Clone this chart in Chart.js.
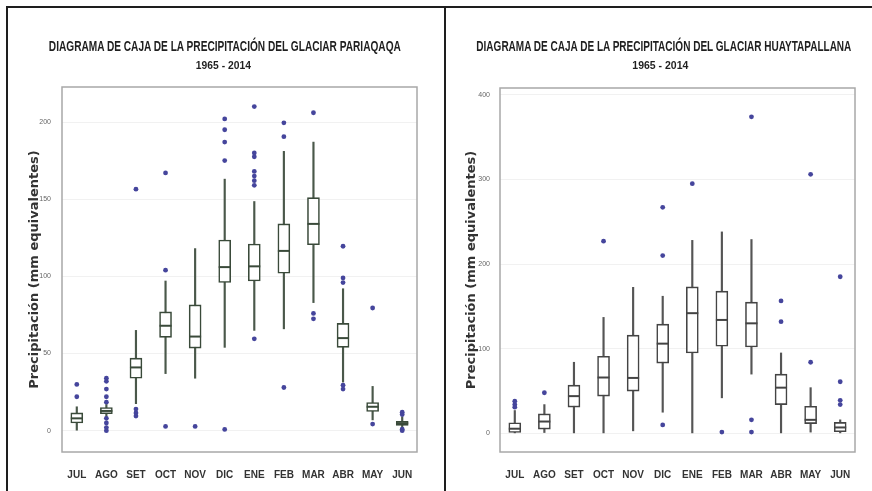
<!DOCTYPE html>
<html><head><meta charset="utf-8">
<script src="https://cdn.jsdelivr.net/npm/chart.js@4.4.1/dist/chart.umd.min.js"></script>
<style>
html,body{margin:0;padding:0;background:#fff;width:872px;height:491px;overflow:hidden;position:relative;}
.line{position:absolute;background:#1e1e1e;}
.t{position:absolute;white-space:nowrap;font-family:'Liberation Sans Narrow','Liberation Sans',Arial,sans-serif;font-weight:bold;color:#1f1f1f;transform-origin:center center;line-height:1;}
canvas{position:absolute;top:0;}
</style></head><body>
<div class="line" style="left:6px;top:6px;width:866px;height:2px"></div>
<div class="line" style="left:6px;top:6px;width:2px;height:485px"></div>
<div class="line" style="left:444px;top:6px;width:2px;height:485px"></div>
<canvas id="c1" width="445" height="491" style="left:0"></canvas>
<canvas id="c2" width="427" height="491" style="left:445px"></canvas>
<div class="t" id="t1" style="font-size:15px">DIAGRAMA DE CAJA DE LA PRECIPITACIÓN DEL GLACIAR PARIAQAQA</div>
<div class="t" id="s1" style="font-size:11px">1965 - 2014</div>
<div class="t" id="t2" style="font-size:15px">DIAGRAMA DE CAJA DE LA PRECIPITACIÓN DEL GLACIAR HUAYTAPALLANA</div>
<div class="t" id="s2" style="font-size:11px">1965 - 2014</div>
<script>
// ---- data ----
const months = ['JUL','AGO','SET','OCT','NOV','DIC','ENE','FEB','MAR','ABR','MAY','JUN'];

const pariaqaqaLow    = [0, 9, 17.5, 37, 34, 54, 65, 66, 83, 31.5, 7, 2];
const pariaqaqaQ1     = [5, 11, 34, 60.5, 53.5, 96, 97, 102, 120.5, 54, 12.5, 3.5];
const pariaqaqaMedian = [8, 12.8, 41, 68, 61, 106, 106.5, 116.5, 134, 60, 15.5, 4.8];
const pariaqaqaQ3     = [11.5, 15, 47, 77, 81.5, 123.5, 121, 134, 151, 69.5, 18.3, 6];
const pariaqaqaHigh   = [15.5, 17, 65, 97, 118, 163, 148.5, 181, 187, 92, 28.7, 9];
const pariaqaqaOutliers = [
  [22, 30],
  [34, 32, 27, 22, 18.5, 8, 5, 2, 0],
  [156.5, 14, 11.5, 9.5],
  [167, 104, 2.8],
  [2.8],
  [202, 195, 187, 175, 0.8],
  [210, 180, 177.5, 168, 165, 162, 159, 59.5],
  [199.5, 190.5, 28],
  [206, 76, 72.5],
  [119.5, 99, 96, 29.5, 27],
  [79.5, 4.3],
  [12, 10.5, 1, 0]
];
const pariaqaqaTicks = [0, 50, 100, 150, 200];

const huaytapallanaLow    = [0, 1, 0, 0, 3, 25, 0, 42, 70, 0, 1.5, 0];
const huaytapallanaQ1     = [1, 5, 31, 44, 50, 83, 95, 103, 102, 34, 11.5, 2];
const huaytapallanaMedian = [5.5, 14, 44, 66, 65.5, 106, 142, 134, 130, 54, 16, 7];
const huaytapallanaQ3     = [12.5, 23, 57, 91, 116, 129, 173, 168, 155, 70, 32, 13];
const huaytapallanaHigh   = [27, 34, 84, 137, 172.5, 162, 228, 238, 229, 95, 54, 16];
const huaytapallanaOutliers = [
  [38, 34, 31],
  [48],
  [],
  [227],
  [],
  [267, 210, 10],
  [295],
  [1.5],
  [374, 16, 1.5],
  [156.5, 132],
  [306, 84],
  [185, 61, 39, 34]
];
const huaytapallanaTicks = [0, 100, 200, 300, 400];

// ---- drawing ----
const NARROW = "'Liberation Sans Narrow','Liberation Sans',Arial,sans-serif";

const framePlugin = {
  id: 'frame',
  afterDatasetsDraw(chart) {
    const a = chart.chartArea, ctx = chart.ctx;
    ctx.save();
    ctx.strokeStyle = '#a8a8a8';
    ctx.lineWidth = 1.5;
    ctx.strokeRect(a.left, a.top, a.right - a.left, a.bottom - a.top);
    ctx.restore();
  }
};

function makeChart(id, low, q1, med, q3, high, outl, ticks, cfg) {
  const outPts = [];
  outl.forEach((arr, i) => arr.forEach(v => outPts.push({x: months[i], y: v})));
  return new Chart(document.getElementById(id), {
    type: 'bar',
    data: {
      labels: months,
      datasets: [
        { label: 'whisker', data: months.map((m, i) => [low[i], high[i]]),
          backgroundColor: cfg.whisker, borderWidth: 0, barThickness: 1.5, grouped: false, order: 4 },
        { label: 'box', data: months.map((m, i) => [q1[i], q3[i]]),
          backgroundColor: '#ffffff', borderColor: cfg.box, borderWidth: 1.6, borderSkipped: false,
          barThickness: 12, grouped: false, order: 3 },
        { type: 'line', label: 'median', data: months.map((m, i) => ({x: m, y: med[i]})),
          showLine: false, pointStyle: 'line', pointRadius: 6, pointBorderWidth: 2,
          pointBorderColor: cfg.box, order: 2 },
        { type: 'line', label: 'outliers', data: outPts, showLine: false,
          pointRadius: 2.4, pointBackgroundColor: '#45459c', pointBorderWidth: 0, order: 1 }
      ]
    },
    options: {
      responsive: false,
      animation: false,
      events: [],
      layout: { padding: { top: cfg.top, right: cfg.right, bottom: 0, left: 0 } },
      plugins: { legend: { display: false }, tooltip: { enabled: false } },
      scales: {
        x: {
          type: 'category',
          offset: true,
          grid: { display: false },
          border: { display: false },
          ticks: { color: '#333', font: { family: NARROW, size: 10, weight: 'bold' }, padding: 9, maxRotation: 0, autoSkip: false },
          afterFit: s => { s.height = 39; }
        },
        y: {
          min: cfg.min, max: cfg.max,
          grid: { color: '#f1f1f1', drawTicks: false },
          border: { display: false },
          afterBuildTicks: s => { s.ticks = ticks.map(v => ({value: v})); },
          ticks: { color: '#666', font: { family: NARROW, size: 7 }, padding: cfg.tickPad },
          title: { display: true, text: 'Precipitación (mm equivalentes)', color: '#333',
                   font: { family: "'DejaVu Sans',sans-serif", size: 13, weight: 'bold' },
                   padding: { top: cfg.titlePad, bottom: 0 } },
          afterFit: s => { s.width = cfg.yWidth; }
        }
      }
    },
    plugins: [framePlugin]
  });
}

makeChart('c1', pariaqaqaLow, pariaqaqaQ1, pariaqaqaMedian, pariaqaqaQ3, pariaqaqaHigh, pariaqaqaOutliers, pariaqaqaTicks,
  { whisker: '#4a584a', box: '#3a4a3a', top: 87, right: 28, min: -13.8, max: 222.7, yWidth: 62, tickPad: 11, titlePad: 27 });
makeChart('c2', huaytapallanaLow, huaytapallanaQ1, huaytapallanaMedian, huaytapallanaQ3, huaytapallanaHigh, huaytapallanaOutliers, huaytapallanaTicks,
  { whisker: '#555555', box: '#444444', top: 88, right: 17, min: -22, max: 408, yWidth: 55, tickPad: 10, titlePad: 19 });

function fitTitle(id, cx, cy, w) {
  const el = document.getElementById(id);
  const r = el.getBoundingClientRect();
  el.style.left = (cx - r.width / 2) + 'px';
  el.style.top = (cy - r.height / 2) + 'px';
  el.style.transform = 'scaleX(' + (w / r.width) + ')';
}
fitTitle('t1', 225, 45, 352);
fitTitle('s1', 223, 65, 55);
fitTitle('t2', 664, 45, 375);
fitTitle('s2', 660, 65, 56);
</script>
</body></html>
